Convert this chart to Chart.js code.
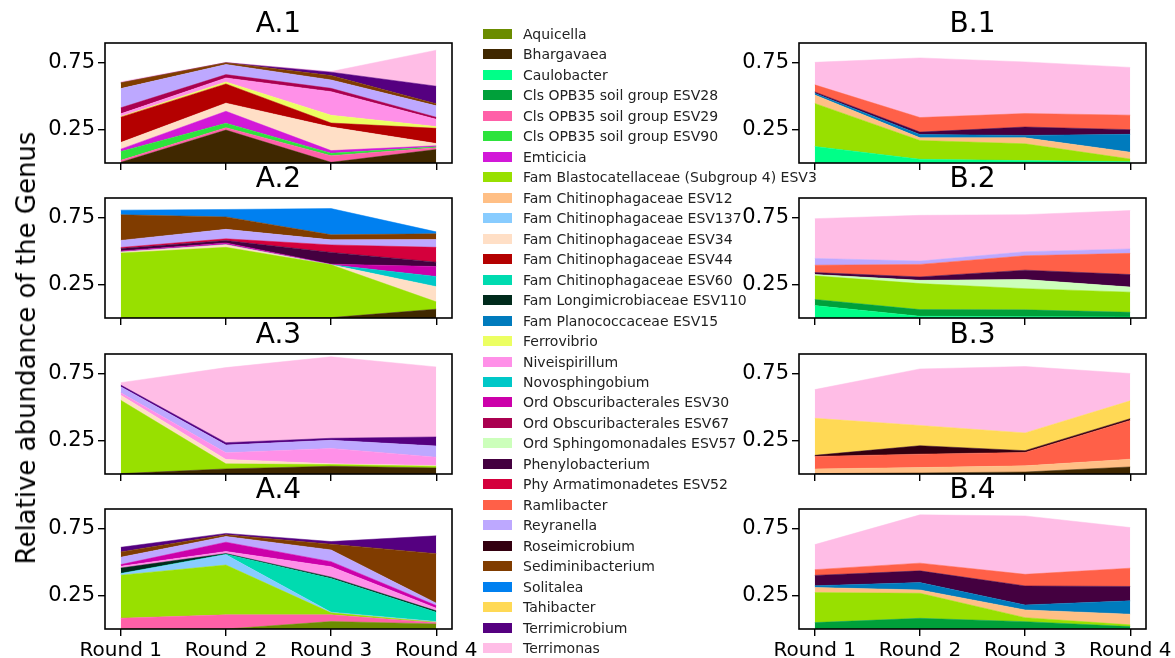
<!DOCTYPE html>
<html>
<head>
<meta charset="utf-8">
<script src="https://cdn.jsdelivr.net/npm/chart.js@4.4.1/dist/chart.umd.min.js"></script>
<style>
  html, body { margin: 0; padding: 0; background: #fff; }
  body { width: 1175px; height: 658px; position: relative; overflow: hidden;
         font-family: "DejaVu Sans", sans-serif; color: #000; }
  canvas { position: absolute; }
  .title { position: absolute; font-size: 28px; transform: translate(-50%, -50%); white-space: nowrap; }
  .ylabel { position: absolute; font-size: 26px; white-space: nowrap;
            transform: translate(-50%, -50%) rotate(-90deg); }
  .leg-sw { position: absolute; width: 29px; height: 10px; }
  .leg-tx { position: absolute; font-size: 14px; white-space: nowrap; transform: translateY(-50%); color: #222; }
</style>
</head>
<body>
<script>
// Genus list in stacking order (bottom to top) and their fill colours
const genera = [
  'Aquicella', 'Bhargavaea', 'Caulobacter', 'Cls OPB35 soil group ESV28',
  'Cls OPB35 soil group ESV29', 'Cls OPB35 soil group ESV90', 'Emticicia',
  'Fam Blastocatellaceae (Subgroup 4) ESV3', 'Fam Chitinophagaceae ESV12',
  'Fam Chitinophagaceae ESV137', 'Fam Chitinophagaceae ESV34',
  'Fam Chitinophagaceae ESV44', 'Fam Chitinophagaceae ESV60',
  'Fam Longimicrobiaceae ESV110', 'Fam Planococcaceae ESV15', 'Ferrovibrio',
  'Niveispirillum', 'Novosphingobium', 'Ord Obscuribacterales ESV30',
  'Ord Obscuribacterales ESV67', 'Ord Sphingomonadales ESV57',
  'Phenylobacterium', 'Phy Armatimonadetes ESV52', 'Ramlibacter', 'Reyranella',
  'Roseimicrobium', 'Sediminibacterium', 'Solitalea', 'Tahibacter',
  'Terrimicrobium', 'Terrimonas'
];
const genusColors = [
  '#6b8c00', '#402800', '#00ff88', '#00a03a', '#ff60a8', '#2de33c', '#d218d8',
  '#98e000', '#ffbf85', '#88ccff', '#ffdfc6', '#b40000', '#00dbb0', '#002b1c',
  '#007bbd', '#ecff62', '#ff90e8', '#00c8c8', '#cc00aa', '#aa0050', '#ccffbb',
  '#440040', '#d4003c', '#ff6048', '#bda8ff', '#330010', '#803c00', '#0080f0',
  '#ffd955', '#550080', '#ffbde6'
];

const rounds = ['Round 1', 'Round 2', 'Round 3', 'Round 4'];
const yTicks = [0.25, 0.75];

// Relative abundance per genus, Round 1..4
const panelA1 = [
  ['Bhargavaea', [0.005, 0.247, 0.005, 0.101]],
  ['Cls OPB35 soil group ESV29', [0.015, 0.018, 0.05, 0.013]],
  ['Cls OPB35 soil group ESV90', [0.066, 0.033, 0.018, 0.007]],
  ['Emticicia', [0.018, 0.09, 0.02, 0.008]],
  ['Fam Chitinophagaceae ESV34', [0.05, 0.061, 0.177, 0.017]],
  ['Fam Chitinophagaceae ESV44', [0.19, 0.144, 0.03, 0.114]],
  ['Ferrovibrio', [0.005, 0.015, 0.058, 0.013]],
  ['Niveispirillum', [0.02, 0.03, 0.177, 0.055]],
  ['Ord Obscuribacterales ESV67', [0.045, 0.025, 0.025, 0.015]],
  ['Reyranella', [0.144, 0.076, 0.063, 0.086]],
  ['Sediminibacterium', [0.043, 0.013, 0.033, 0.015]],
  ['Terrimicrobium', [0, 0, 0.025, 0.132]],
  ['Terrimonas', [0.008, 0.003, 0.005, 0.27]]
];
const panelA2 = [
  ['Bhargavaea', [0, 0, 0.003, 0.066]],
  ['Fam Blastocatellaceae (Subgroup 4) ESV3', [0.487, 0.53, 0.396, 0.055]],
  ['Fam Chitinophagaceae ESV34', [0.008, 0.02, 0, 0.114]],
  ['Novosphingobium', [0, 0, 0, 0.076]],
  ['Ord Obscuribacterales ESV30', [0.008, 0.013, 0.005, 0.075]],
  ['Phenylobacterium', [0.018, 0.018, 0.088, 0.033]],
  ['Phy Armatimonadetes ESV52', [0.008, 0.013, 0.056, 0.111]],
  ['Reyranella', [0.053, 0.071, 0.038, 0.058]],
  ['Sediminibacterium', [0.192, 0.093, 0.038, 0.043]],
  ['Solitalea', [0.035, 0.056, 0.197, 0.015]]
];
const panelA3 = [
  ['Bhargavaea', [0.003, 0.038, 0.058, 0.045]],
  ['Fam Blastocatellaceae (Subgroup 4) ESV3', [0.55, 0.038, 0.013, 0.013]],
  ['Fam Chitinophagaceae ESV34', [0.038, 0.033, 0.005, 0.005]],
  ['Niveispirillum', [0.018, 0.05, 0.116, 0.063]],
  ['Reyranella', [0.045, 0.058, 0.061, 0.084]],
  ['Terrimicrobium', [0.013, 0.018, 0.015, 0.068]],
  ['Terrimonas', [0.018, 0.563, 0.611, 0.525]]
];
const panelA4 = [
  ['Aquicella', [0, 0, 0.056, 0.038]],
  ['Cls OPB35 soil group ESV29', [0.081, 0.106, 0.05, 0.008]],
  ['Fam Blastocatellaceae (Subgroup 4) ESV3', [0.323, 0.374, 0.015, 0.005]],
  ['Fam Chitinophagaceae ESV137', [0.01, 0.076, 0.005, 0.005]],
  ['Fam Chitinophagaceae ESV60', [0.003, 0.005, 0.253, 0.07]],
  ['Fam Longimicrobiaceae ESV110', [0.04, 0.005, 0.01, 0.01]],
  ['Niveispirillum', [0.013, 0.015, 0.078, 0.02]],
  ['Ord Obscuribacterales ESV30', [0.013, 0.07, 0.038, 0.02]],
  ['Reyranella', [0.055, 0.043, 0.088, 0.018]],
  ['Sediminibacterium', [0.04, 0.013, 0.043, 0.371]],
  ['Terrimicrobium', [0.035, 0.01, 0.02, 0.134]]
];
const panelB1 = [
  ['Caulobacter', [0.124, 0.028, 0.018, 0.01]],
  ['Fam Blastocatellaceae (Subgroup 4) ESV3', [0.323, 0.141, 0.126, 0.02]],
  ['Fam Chitinophagaceae ESV12', [0.063, 0.02, 0.045, 0.051]],
  ['Fam Planococcaceae ESV15', [0.013, 0.025, 0.018, 0.134]],
  ['Phenylobacterium', [0.01, 0.018, 0.063, 0.035]],
  ['Ramlibacter', [0.053, 0.109, 0.101, 0.109]],
  ['Terrimonas', [0.169, 0.447, 0.387, 0.358]]
];
const panelB2 = [
  ['Caulobacter', [0.093, 0.013, 0.01, 0.008]],
  ['Cls OPB35 soil group ESV28', [0.046, 0.05, 0.051, 0.035]],
  ['Fam Blastocatellaceae (Subgroup 4) ESV3', [0.177, 0.195, 0.159, 0.151]],
  ['Ord Sphingomonadales ESV57', [0.01, 0.025, 0.068, 0.038]],
  ['Phenylobacterium', [0.015, 0.025, 0.071, 0.094]],
  ['Ramlibacter', [0.055, 0.094, 0.108, 0.159]],
  ['Reyranella', [0.051, 0.025, 0.03, 0.033]],
  ['Terrimonas', [0.298, 0.343, 0.278, 0.288]]
];
const panelB3 = [
  ['Bhargavaea', [0.003, 0.008, 0.015, 0.053]],
  ['Fam Chitinophagaceae ESV12', [0.035, 0.04, 0.046, 0.058]],
  ['Ramlibacter', [0.094, 0.101, 0.101, 0.291]],
  ['Roseimicrobium', [0.008, 0.063, 0.013, 0.013]],
  ['Tahibacter', [0.278, 0.152, 0.133, 0.134]],
  ['Terrimonas', [0.215, 0.424, 0.498, 0.205]]
];
const panelB4 = [
  ['Cls OPB35 soil group ESV28', [0.048, 0.08, 0.055, 0.018]],
  ['Fam Blastocatellaceae (Subgroup 4) ESV3', [0.225, 0.188, 0.03, 0.013]],
  ['Fam Chitinophagaceae ESV12', [0.038, 0.025, 0.058, 0.08]],
  ['Fam Planococcaceae ESV15', [0.013, 0.055, 0.037, 0.1]],
  ['Phenylobacterium', [0.078, 0.088, 0.143, 0.108]],
  ['Ramlibacter', [0.043, 0.058, 0.087, 0.137]],
  ['Terrimonas', [0.188, 0.362, 0.438, 0.305]]
];

// Page layout
const colLeft = { A: 105, B: 799 };
const colWidth = 347;
const rowTop = [42.7, 198.3, 354, 509];
const boxHeight = 119.6;
const padL = 70, padT = 8, padR = 28;
const FONT = '"DejaVu Sans", sans-serif';

const panels = [
  { name: 'A.1', col: 'A', row: 0, data: panelA1 },
  { name: 'A.2', col: 'A', row: 1, data: panelA2 },
  { name: 'A.3', col: 'A', row: 2, data: panelA3 },
  { name: 'A.4', col: 'A', row: 3, data: panelA4 },
  { name: 'B.1', col: 'B', row: 0, data: panelB1 },
  { name: 'B.2', col: 'B', row: 1, data: panelB2 },
  { name: 'B.3', col: 'B', row: 2, data: panelB3 },
  { name: 'B.4', col: 'B', row: 3, data: panelB4 }
];

// Black frame around the plotting area
const framePlugin = {
  id: 'frame',
  afterDraw(chart) {
    const a = chart.chartArea, ctx = chart.ctx;
    ctx.save();
    ctx.strokeStyle = '#000';
    ctx.lineWidth = 1.6;
    ctx.strokeRect(a.left, a.top, a.right - a.left, a.bottom - a.top);
    ctx.restore();
  }
};

// Fixed axis sizes so every plotting box lands at the same place
function fixScale(s, size, vertical) {
  if (vertical) s.width = size; else s.height = size;
  s.paddingLeft = 0; s.paddingRight = 0; s.paddingTop = 0; s.paddingBottom = 0;
}

function addDiv(cls, text, x, y) {
  const d = document.createElement('div');
  d.className = cls;
  d.textContent = text;
  d.style.left = x + 'px';
  d.style.top = y + 'px';
  document.body.appendChild(d);
  return d;
}

panels.forEach(p => {
  const bottom = p.row === 3;
  const padB = bottom ? 40 : 10;
  const left = colLeft[p.col];
  const top = rowTop[p.row];
  const cv = document.createElement('canvas');
  cv.width = Math.round(colWidth + padL + padR);
  cv.height = Math.round(boxHeight + padT + padB);
  cv.style.left = (left - padL) + 'px';
  cv.style.top = (top - padT) + 'px';
  document.body.appendChild(cv);

  addDiv('title', p.name, left + colWidth / 2, top - 21);

  const datasets = p.data.map(([g, vals], i) => {
    const c = genusColors[genera.indexOf(g)];
    return {
      label: g,
      data: vals.map((v, k) => ({ x: k, y: v })),
      backgroundColor: c,
      borderColor: c,
      borderWidth: 0.5,
      pointRadius: 0,
      tension: 0,
      fill: i === 0 ? 'origin' : '-1'
    };
  });

  new Chart(cv, {
    type: 'line',
    data: { datasets },
    options: {
      responsive: false,
      animation: false,
      devicePixelRatio: 1,
      layout: { padding: { left: 0, top: padT, right: padR, bottom: 0 } },
      plugins: { legend: { display: false }, tooltip: { enabled: false } },
      scales: {
        x: {
          type: 'linear', min: -0.15, max: 3.15,
          afterBuildTicks: s => { s.ticks = rounds.map((_, k) => ({ value: k })); },
          afterFit: s => fixScale(s, padB, false),
          border: { display: false },
          grid: { drawOnChartArea: false, drawTicks: true, tickLength: 7, color: '#000', lineWidth: 1.4 },
          ticks: {
            display: true, padding: 3, maxRotation: 0, autoSkip: false,
            color: '#000', font: { family: FONT, size: 20 },
            callback: v => bottom ? rounds[v] : ''
          }
        },
        y: {
          type: 'linear', stacked: true, min: 0, max: 0.9,
          afterBuildTicks: s => { s.ticks = yTicks.map(v => ({ value: v })); },
          afterFit: s => fixScale(s, padL, true),
          border: { display: false },
          grid: { drawOnChartArea: false, drawTicks: true, tickLength: 7, color: '#000', lineWidth: 1.4 },
          ticks: {
            padding: 3, color: '#000', font: { family: FONT, size: 21 },
            callback: v => v.toFixed(2)
          }
        }
      }
    },
    plugins: [framePlugin]
  });
});

// Axis label shared by all panels
addDiv('ylabel', 'Relative abundance of the Genus', 26, 348);

// Legend column
genera.forEach((g, i) => {
  const y = 34 + i * 20.47;
  const sw = document.createElement('div');
  sw.className = 'leg-sw';
  sw.style.left = '483px';
  sw.style.top = (y - 5) + 'px';
  sw.style.background = genusColors[i];
  document.body.appendChild(sw);
  addDiv('leg-tx', g, 523, y);
});
</script>
</body>
</html>
